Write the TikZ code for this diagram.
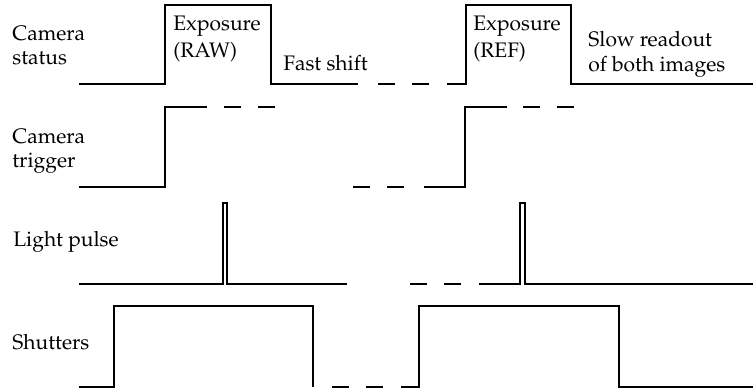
\documentclass[tikz,border=0pt]{standalone}
\usepackage[T1]{fontenc}
\usepackage{mathpazo}
\tikzset{
  wave/.style={line width=0.7pt, line join=miter},
  gap/.style={wave, dash pattern=on 8.5pt off 8.5pt},
  sig/.style={anchor=base west, align=left, inner sep=0pt,
              font=\fontsize{10.5}{12}\selectfont},
  note/.style={sig, font=\fontsize{10.5}{13.5}\selectfont}
}
\begin{document}
\begin{tikzpicture}[x=0.5pt,y=-0.5pt]
  \useasboundingbox (0,0) rectangle (754,389);
  % signal names
  \node[sig] (status)  at (12,65)  {Camera\\status};
  \node[sig] (trigger) at (12,168) {Camera\\trigger};
  \node[sig] (light)   at (13,247) {Light pulse};
  \node[sig] (shutter) at (12,350) {Shutters};
  % phase labels
  \node[note] (raw)  at (173,58) {Exposure\\(RAW)};
  \node[sig]  (fast) at (283,71) {Fast shift};
  \node[note] (ref)  at (473,58) {Exposure\\(REF)};
  \node[sig, font=\fontsize{10.5}{12.5}\selectfont] (slow) at (588,72) {Slow readout\\of both images};
  % camera status
  \draw[wave] (79,84) -- (165,84) -- (165,5) -- (271,5) -- (271,84) -- (358,84);
  \draw[gap]  (378,84) -- (430,84);
  \draw[wave] (447,84) -- (466,84) -- (466,5) -- (571,5) -- (571,84) -- (753,84);
  % camera trigger
  \draw[wave] (79,187) -- (165,187) -- (165,107) -- (207,107);
  \draw[gap]  (224,107) -- (276,107);
  \draw[gap]  (353,187) -- (406,187);
  \draw[wave] (424,187) -- (465,187) -- (465,107) -- (507,107);
  \draw[gap]  (523,107) -- (575,107);
  % light pulse
  \draw[wave] (79,284) -- (223,284) -- (223,203) -- (227,203) -- (227,284) -- (347,284);
  \draw[gap]  (410,284) -- (462,284);
  \draw[wave] (479,284) -- (520,284) -- (520,203) -- (525,203) -- (525,284) -- (753,284);
  % shutters
  \draw[wave] (79,387) -- (114,387) -- (114,306) -- (313,306) -- (313,387);
  \draw[gap]  (332,387) -- (384,387);
  \draw[wave] (401,387) -- (419,387) -- (419,306) -- (619,306) -- (619,387) -- (753,387);
\end{tikzpicture}
\end{document}
